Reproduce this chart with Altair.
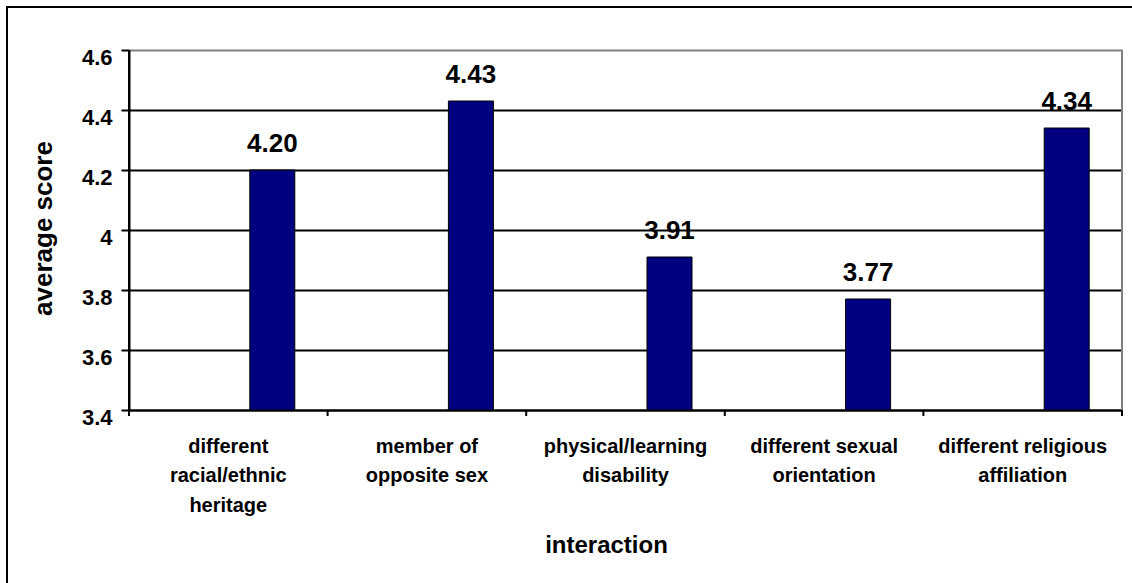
import altair as alt
import pandas as pd

# Average score for each kind of interaction
category_lines = [
    ["different", "racial/ethnic", "heritage"],
    ["member of", "opposite sex"],
    ["physical/learning", "disability"],
    ["different sexual", "orientation"],
    ["different religious", "affiliation"],
]
scores = [4.20, 4.43, 3.91, 3.77, 4.34]
y_ticks = [3.4, 3.6, 3.8, 4.0, 4.2, 4.4, 4.6]

categories = ["\n".join(lines) for lines in category_lines]
df = pd.DataFrame({"interaction": categories, "score": scores})
df["label"] = [f"{v:.2f}" for v in scores]

FONT = "Liberation Sans"
NAVY = "#000080"
GREY = "#808080"
WIDTH, HEIGHT = 993, 360
HALF_BAND = WIDTH / len(categories) / 2
BAR_SHIFT = 44  # bars sit right of the band centre, as in a two-series cluster

x_enc = alt.X(
    "interaction:N",
    sort=categories,
    scale=alt.Scale(paddingInner=0, paddingOuter=0),
    axis=alt.Axis(
        title="interaction",
        titleFont=FONT,
        titleFontSize=24,
        titleFontWeight="bold",
        titleColor="black",
        titleX=477,
        titleY=142,
        titleAlign="center",
        titleBaseline="alphabetic",
        labelFont=FONT,
        labelFontSize=20,
        labelFontWeight="bold",
        labelColor="black",
        labelAngle=0,
        labelBaseline="top",
        labelLineHeight=29.5,
        labelPadding=26,
        labelLimit=300,
        labelExpr="split(datum.value, '\\n')",
        ticks=False,
        domainColor="black",
        domainWidth=2,
        grid=False,
    ),
)

y_enc = alt.Y(
    "score:Q",
    scale=alt.Scale(domain=[y_ticks[0], y_ticks[-1]], nice=False, zero=False),
    axis=alt.Axis(
        title="average score",
        titleFont=FONT,
        titleFontSize=26,
        titleFontWeight="bold",
        titleColor="black",
        titleAngle=-90,
        titleX=-78,
        titleY=178,
        titleAlign="center",
        titleBaseline="alphabetic",
        values=y_ticks,
        format="~g",
        labelFont=FONT,
        labelFontSize=22,
        labelFontWeight="bold",
        labelColor="black",
        labelPadding=9,
        labelOffset=7,
        labelBaseline="middle",
        tickSize=8,
        tickColor="black",
        tickWidth=2,
        domainColor="black",
        domainWidth=2,
        grid=True,
        gridColor=alt.condition(
            f"datum.value >= {y_ticks[-1]}", alt.value(GREY), alt.value("black")
        ),
        gridWidth=2,
    ),
)

bars = alt.Chart(df).mark_bar(
    width=45, xOffset=BAR_SHIFT, color=NAVY, stroke="black", strokeWidth=1
).encode(x=x_enc, y=y_enc, y2=alt.datum(y_ticks[0]))

labels = alt.Chart(df).mark_text(
    xOffset=BAR_SHIFT,
    dy=-18,
    baseline="alphabetic",
    font=FONT,
    fontSize=26,
    fontWeight="bold",
    color="black",
).encode(x=alt.X("interaction:N", sort=categories), y="score:Q", text="label:N")

# category separator ticks below the x axis, at the left edge of each band
sep_left = alt.Chart(df).mark_rule(
    color="black", strokeWidth=2, xOffset=-HALF_BAND
).encode(
    x=alt.X("interaction:N", sort=categories),
    y=alt.value(HEIGHT),
    y2=alt.value(HEIGHT + 6),
)
# closing tick at the right end of the axis
sep_right = alt.Chart(df.tail(1)).mark_rule(
    color="black", strokeWidth=2, xOffset=HALF_BAND
).encode(
    x=alt.X("interaction:N", sort=categories),
    y=alt.value(HEIGHT),
    y2=alt.value(HEIGHT + 6),
)

# plot-area edges: grey on the right, solid black along the value axis
right_edge = alt.Chart(df.tail(1)).mark_rule(color=GREY, strokeWidth=2).encode(
    x=alt.value(WIDTH), y=alt.value(0), y2=alt.value(HEIGHT)
)
left_edge = alt.Chart(df.tail(1)).mark_rule(color="black", strokeWidth=2).encode(
    x=alt.value(0), y=alt.value(0), y2=alt.value(HEIGHT)
)

# frame around the whole chart area (its right and bottom edges run off the page)
frame = alt.Chart(df).mark_rect(
    fill=None, stroke="black", strokeWidth=2, clip=False
).encode(
    x=alt.value(-122), x2=alt.value(1020),
    y=alt.value(-43), y2=alt.value(560),
)

chart = (
    alt.layer(frame, right_edge, bars, labels, sep_left, sep_right, left_edge)
    .properties(
        width=WIDTH,
        height=HEIGHT,
        padding={"left": 129, "top": 50, "right": 10, "bottom": 173},
        autosize=alt.AutoSizeParams(type="none"),
        background="white",
    )
    .configure_view(stroke=None)
)

chart.save("out.html", embed_options={"renderer": "svg", "actions": False})
